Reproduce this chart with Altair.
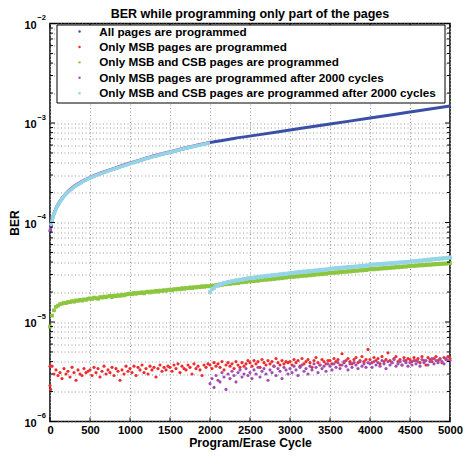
import altair as alt
import pandas as pd

FONT = "Liberation Sans"

TITLE = "BER while programming only part of the pages"
SERIES = [
    "All pages are programmed",
    "Only MSB pages are programmed",
    "Only MSB and CSB pages are programmed",
    "Only MSB pages are programmed after 2000 cycles",
    "Only MSB and CSB pages are programmed after 2000 cycles",
]
COLORS = ["#3a4fa5", "#ee2b2e", "#8cc63e", "#a04fb0", "#93d4e6"]

X_TICKS = [0, 500, 1000, 1500, 2000, 2500, 3000, 3500, 4000, 4500, 5000]
Y_MAJOR = [1e-6, 1e-5, 1e-4, 1e-3, 1e-2]
Y_EXP = ["\u22126", "\u22125", "\u22124", "\u22123", "\u22122"]
Y_MINOR = [m * 10.0 ** e for e in range(-6, -2) for m in range(2, 10)]

# upper curve (all pages)
BLUE_X = [0, 10, 20, 35, 50, 75, 100, 150, 200, 300, 400, 500, 650, 800, 1000,
          1250, 1500, 1750, 2000, 2300, 2600, 3000, 3500, 4000, 4500, 5000]
BLUE_BER = [8.0e-5, 9.0e-5, 1.0e-4, 1.12e-4, 1.22e-4, 1.37e-4, 1.5e-4, 1.73e-4,
            1.93e-4, 2.27e-4, 2.55e-4, 2.8e-4, 3.13e-4, 3.45e-4, 3.9e-4, 4.5e-4,
            5.08e-4, 5.7e-4, 6.35e-4, 7.0e-4, 7.6e-4, 8.5e-4, 9.77e-4,
            1.12e-3, 1.29e-3, 1.48e-3]

# before 2000 cycles the "after 2000" series follow the all-pages curve
TOP_X = [0, 10, 20, 35, 50, 75, 100, 150, 200, 300, 400, 500, 650, 800, 1000,
         1250, 1500, 1750, 2000]
PURPLE_TOP_BER = [8.1e-5, 9.1e-5, 1.01e-4, 1.14e-4, 1.24e-4, 1.39e-4, 1.53e-4,
                  1.76e-4, 1.96e-4, 2.31e-4, 2.59e-4, 2.84e-4, 3.18e-4, 3.5e-4,
                  3.96e-4, 4.57e-4, 5.15e-4, 5.78e-4, 6.42e-4]
CYAN_TOP_BER = [9.3e-5, 9.5e-5, 1.0e-4, 1.12e-4, 1.22e-4, 1.37e-4, 1.5e-4,
                1.73e-4, 1.93e-4, 2.27e-4, 2.55e-4, 2.8e-4, 3.13e-4, 3.45e-4,
                3.9e-4, 4.5e-4, 5.08e-4, 5.7e-4, 6.3e-4]

# values below are in units of 1e-7
RED_X = [0, 0, 8] + list(range(25, 5001, 25))
RED_E7 = [
    36, 23, 21, 36, 30, 33, 29, 31, 27, 34, 30, 32, 28, 35, 31, 26, 33, 30, 29, 34, 31, 32,
    33, 29, 35, 31, 34, 28, 32, 36, 30, 33, 31, 35, 29, 34, 32, 26, 33, 30, 36, 32,
    34, 31, 36, 29, 35, 33, 37, 31, 34, 30, 36, 33, 35, 28, 34, 37, 32, 35, 33, 36,
    35, 32, 37, 34, 38, 31, 36, 34, 33, 37, 35, 30, 38, 34, 36, 33, 29, 37, 35, 38,
    37, 34, 39, 36, 38, 35, 40, 33, 37, 39, 36, 38, 34, 40, 37, 35, 39, 36, 38, 41,
    39, 36, 41, 38, 40, 35, 42, 39, 37, 41, 38, 40, 36, 43, 39, 37, 41, 38, 40, 39,
    40, 37, 42, 39, 41, 36, 43, 38, 40, 42, 39, 35, 41, 44, 39, 37, 42, 40, 38, 41,
    41, 38, 43, 40, 42, 37, 48, 39, 41, 43, 40, 38, 42, 44, 39, 41, 45, 40, 42, 53,
    42, 39, 44, 41, 43, 38, 45, 40, 42, 49, 41, 39, 43, 45, 40, 42, 37, 44, 41, 43,
    42, 40, 44, 41, 43, 39, 45, 41, 37, 44, 42, 40, 43, 45, 41, 43, 39, 44, 42, 45,
    43,
]

GREEN_X = list(range(0, 5001, 25))
GREEN_E7 = [
    90, 116, 131, 142, 146, 151, 153, 156, 155, 159, 158, 162, 160, 165, 163, 167, 164, 169, 167, 171,
    173, 170, 176, 174, 171, 178, 176, 180, 177, 181, 183, 178, 184, 182, 186, 183, 188, 185, 189, 191,
    193, 190, 196, 192, 197, 195, 199, 194, 200, 202, 198, 203, 201, 206, 202, 207, 205, 209, 206, 211,
    211, 208, 214, 212, 216, 213, 219, 215, 220, 218, 223, 219, 224, 222, 226, 224, 229, 225, 230, 228,
    229, 233, 230, 235, 234, 238, 236, 242, 239, 244, 241, 247, 244, 249, 246, 252, 250, 255, 252, 257,
    256, 260, 257, 263, 259, 265, 263, 268, 265, 270, 267, 273, 270, 276, 273, 278, 275, 281, 279, 284,
    283, 287, 284, 290, 286, 292, 290, 295, 291, 297, 294, 300, 297, 303, 300, 306, 302, 308, 305, 311,
    310, 314, 311, 317, 313, 320, 317, 322, 319, 325, 321, 328, 324, 330, 327, 333, 329, 336, 332, 338,
    338, 342, 338, 345, 341, 347, 344, 350, 346, 352, 349, 355, 351, 358, 354, 360, 357, 363, 359, 365,
    365, 369, 365, 371, 368, 374, 370, 376, 373, 379, 375, 381, 378, 384, 380, 386, 383, 388, 385, 390,
    391,
]

LATE_X = list(range(2000, 5001, 25))
PURPLE_E7 = [
    24, 27, 22, 29, 26, 25, 31, 28, 21, 30, 27, 32, 29, 25, 31, 33, 28, 30, 34, 29,
    31, 27, 33, 30, 35, 28, 32, 34, 30, 26, 33, 31, 36, 29, 34, 32, 27, 35, 33, 30,
    34, 31, 36, 33, 29, 35, 37, 32, 34, 30, 36, 33, 38, 35, 31, 37, 34, 36, 32, 38,
    36, 33, 38, 35, 39, 34, 37, 40, 36, 33, 38, 35, 39, 37, 34, 40, 36, 38, 35, 39,
    38, 35, 40, 37, 39, 36, 41, 38, 34, 40, 37, 39, 42, 36, 38, 40, 37, 41, 39, 36,
    39, 37, 41, 38, 40, 36, 42, 39, 41, 37, 40, 43, 38, 41, 39, 42, 40, 38, 43, 41,
    41,
]
CYAN_E7 = [
    200, 214, 219, 230, 231, 240, 240, 248, 247, 254, 252, 258, 257, 263, 261, 267, 265, 272, 270, 276,
    275, 279, 276, 283, 280, 286, 283, 289, 287, 293, 290, 296, 293, 299, 297, 302, 300, 306, 303, 308,
    309, 313, 310, 316, 314, 320, 316, 323, 319, 326, 322, 328, 325, 331, 328, 334, 331, 337, 334, 340,
    342, 346, 343, 349, 346, 352, 349, 355, 351, 358, 354, 360, 357, 363, 360, 366, 363, 369, 366, 372,
    374, 378, 375, 381, 378, 384, 380, 387, 383, 389, 386, 392, 389, 395, 392, 398, 395, 400, 397, 403,
    404, 409, 405, 412, 408, 416, 412, 420, 416, 424, 420, 428, 424, 432, 428, 436, 432, 440, 436, 443,
    445,
]

W, H = 400, 398

xsc = alt.Scale(domain=[0, 5000], nice=False, zero=False)
ysc = alt.Scale(type="log", domain=[1e-6, 1e-2], nice=False)
csc = alt.Scale(domain=SERIES, range=COLORS)

xax = alt.Axis(values=X_TICKS, grid=True, gridDash=[1, 2.5], gridColor="#999999",
               ticks=False, tickSize=0, domain=False, labelFlush=False, format="d",
               labelFont=FONT, labelFontSize=11.2, labelFontWeight="bold",
               labelColor="black", labelPadding=3.2,
               title="Program/Erase Cycle", titleFont=FONT, titleFontSize=12.2,
               titleFontWeight="bold", titleColor="black", titleY=24.5,
               titleBaseline="alphabetic")
yax = alt.Axis(values=Y_MAJOR + Y_MINOR, grid=True, gridDash=[1, 2.5], gridColor="#999999",
               ticks=False, tickSize=0, domain=False, labels=False,
               title="BER", titleFont=FONT, titleFontSize=12, titleFontWeight="bold",
               titleColor="black", titleX=-31.7, titleY=H / 2, titleAngle=270,
               titleBaseline="alphabetic", titleAlign="center")

X = alt.X("c:Q", scale=xsc, axis=xax)
Y = alt.Y("ber:Q", scale=ysc, axis=yax)

legend = alt.Legend(title=None, orient="none", legendX=23.7, legendY=2.2, padding=0,
                    labelFont=FONT, labelFontSize=11.7, labelFontWeight="bold",
                    labelColor="black", labelOffset=13.8, rowPadding=2.4,
                    symbolType="circle", symbolSize=6, symbolStrokeWidth=0,
                    labelLimit=500)
C = alt.Color("s:N", scale=csc, legend=legend)

blue_df = pd.DataFrame({"c": BLUE_X, "ber": BLUE_BER})
ptop_df = pd.DataFrame({"c": TOP_X, "ber": PURPLE_TOP_BER})
ctop_df = pd.DataFrame({"c": TOP_X, "ber": CYAN_TOP_BER})
red_df = pd.DataFrame({"c": RED_X, "ber": [v * 1e-7 for v in RED_E7], "s": SERIES[1]})
green_df = pd.DataFrame({"c": GREEN_X, "ber": [v * 1e-7 for v in GREEN_E7], "s": SERIES[2]})
purple_df = pd.DataFrame({"c": LATE_X, "ber": [v * 1e-7 for v in PURPLE_E7], "s": SERIES[3]})
cyan_df = pd.DataFrame({"c": LATE_X, "ber": [v * 1e-7 for v in CYAN_E7], "s": SERIES[4]})

blue_line = alt.Chart(blue_df).mark_line(color=COLORS[0], strokeWidth=3, interpolate="monotone").encode(x=X, y=Y)
ptop_line = alt.Chart(ptop_df).mark_line(color=COLORS[3], strokeWidth=3, interpolate="monotone").encode(x=X, y=Y)
ctop_line = alt.Chart(ctop_df).mark_line(color=COLORS[4], strokeWidth=3.6, interpolate="monotone").encode(x=X, y=Y)

red_pts = alt.Chart(red_df).mark_circle(size=10, opacity=1).encode(x=X, y=Y, color=C)
green_pts = alt.Chart(green_df).mark_square(size=14, opacity=1).encode(x=X, y=Y, color=C)
purple_pts = alt.Chart(purple_df).mark_circle(size=10, opacity=1).encode(x=X, y=Y, color=C)
cyan_pts = alt.Chart(cyan_df).mark_square(size=14, opacity=1).encode(x=X, y=Y, color=C)

ymaj_df = pd.DataFrame({"ber": Y_MAJOR, "exp": Y_EXP})
ymin_df = pd.DataFrame({"ber": Y_MINOR})
xt_df = pd.DataFrame({"c": X_TICKS})

tick_layers = [
    alt.Chart(ymaj_df).mark_rule(color="black", strokeWidth=1).encode(x=alt.value(0), x2=alt.value(5), y=Y),
    alt.Chart(ymin_df).mark_rule(color="black", strokeWidth=1).encode(x=alt.value(0), x2=alt.value(3), y=Y),
    alt.Chart(ymaj_df).mark_rule(color="black", strokeWidth=1).encode(x=alt.value(W), x2=alt.value(W - 5), y=Y),
    alt.Chart(ymin_df).mark_rule(color="black", strokeWidth=1).encode(x=alt.value(W), x2=alt.value(W - 3), y=Y),
    alt.Chart(xt_df).mark_rule(color="black", strokeWidth=1).encode(x=X, y=alt.value(H), y2=alt.value(H - 4)),
    alt.Chart(xt_df).mark_rule(color="black", strokeWidth=1).encode(x=X, y=alt.value(0), y2=alt.value(4)),
]

legend_box = alt.Chart(pd.DataFrame({"k": [0]})).mark_rect(
    fill="white", stroke="black", strokeWidth=1
).encode(x=alt.value(7), x2=alt.value(W - 5), y=alt.value(1.5), y2=alt.value(79.5))

ten_labels = alt.Chart(ymaj_df).mark_text(
    align="right", baseline="alphabetic", dy=5, font=FONT, fontSize=11,
    fontWeight="bold", color="black"
).encode(x=alt.value(-13.3), y=Y, text=alt.value("10"))
exp_labels = alt.Chart(ymaj_df).mark_text(
    align="left", baseline="alphabetic", dy=-3.2, font=FONT, fontSize=7.5,
    fontWeight="bold", color="black"
).encode(x=alt.value(-12.7), y=Y, text="exp:N")

title_text = alt.Chart(pd.DataFrame({"t": [TITLE]})).mark_text(
    align="center", baseline="alphabetic", font=FONT, fontSize=12.5,
    fontWeight="bold", color="black"
).encode(x=alt.value(W / 2), y=alt.value(-5.6), text="t:N")

chart = alt.layer(
    blue_line, ptop_line, ctop_line, red_pts, green_pts, purple_pts, cyan_pts,
    *tick_layers, legend_box, ten_labels, exp_labels, title_text
).properties(
    width=W, height=H,
    autosize=alt.AutoSizeParams(type="none"),
    padding={"left": 42, "top": 15.5, "right": 14, "bottom": 29.5},
).configure(font=FONT, background="white").configure_view(stroke="black", strokeWidth=1.5)

chart.save("out.html", embed_options={"renderer": "svg", "actions": False})
